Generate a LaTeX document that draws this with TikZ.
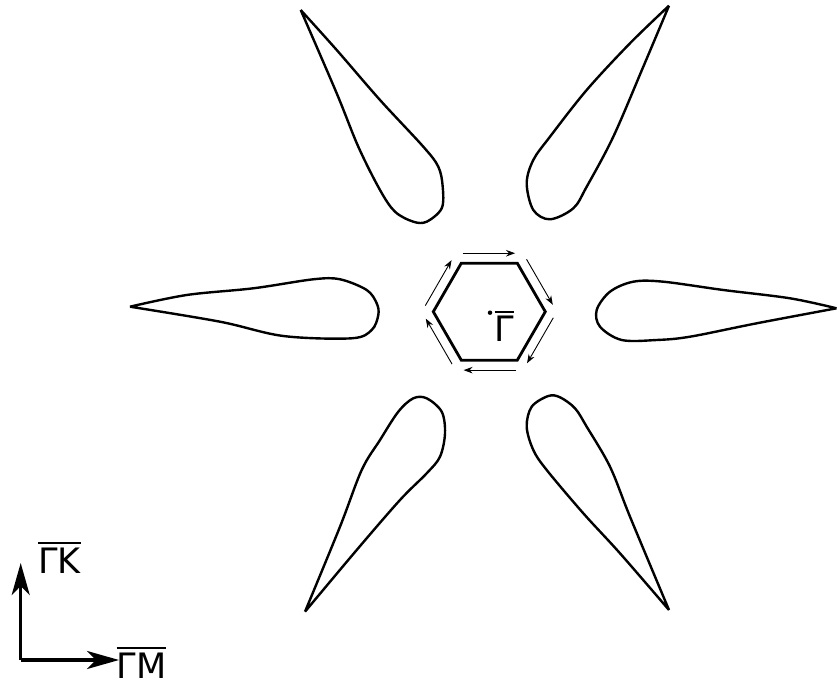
\documentclass[tikz,border=0pt]{standalone}
\usepackage{fontspec}
\setmainfont{DejaVu Sans}
\usetikzlibrary{arrows.meta,calc}
\newcommand\ovlbar[2]{\vbox{\hrule height 2pt\kern #1\hbox{#2}}}
\tikzset{
  petal/.style={draw=black, line width=2.4pt, line join=round},
  hexline/.style={draw=black, line width=2.8pt, line join=miter},
  circarrow/.style={draw=black, line width=0.9pt, -{Stealth[length=9pt,width=6.5pt]}, shorten <=7pt, shorten >=8pt},
  axisarrow/.style={draw=black, line width=3.3pt, -{Stealth[length=32pt,width=18pt,inset=9pt]}},
  lbl/.style={inner sep=0pt, anchor=base west, font=\fontsize{35}{42}\selectfont}
}
\begin{document}
\begin{tikzpicture}[x=1pt,y=-1pt]
\useasboundingbox (0,0) rectangle (838,684);
% petals
\draw[petal] plot[smooth, tension=0.55] coordinates {(130,306.7) (186.7,295) (253.3,288.3) (313.3,279.3) (340,279.3) (366.7,290) (376.7,303.3) (378.3,315) (371.7,330) (351.7,338.3) (283.3,336) (220,321.7) (130,306.7)};
\draw[petal] plot[smooth, tension=0.55] coordinates {(300.7,10) (336.7,50) (380,100) (423.3,146.7) (438.3,166.7) (442.7,186.7) (441.7,208.3) (426.7,221.7) (413.3,221.7) (395,211.7) (380,190) (358.3,146.7) (336.7,93.3) (300.7,10)};
\draw[petal] plot[smooth, tension=0.55] coordinates {(669,5.7) (630,43.3) (586.7,90) (550,136.7) (533.3,160) (526.7,183.3) (533.3,210) (550,219.3) (573.3,208.3) (586.7,186.7) (613.3,136.7) (643.3,66.7) (669,5.7)};
\draw[petal] plot[smooth, tension=0.55] coordinates {(836.5,308.3) (790,298.3) (723.3,290) (663.3,281.7) (633.3,281.7) (610,291.7) (596.7,310) (600,326.7) (621.7,340) (656.7,340) (690,336.7) (756.7,323.3) (836.5,308.3)};
\draw[petal] plot[smooth, tension=0.55] coordinates {(305,611.7) (356.7,550) (400,500) (426.7,473.3) (440,456.7) (445,433.3) (441.7,411.7) (426.7,398.3) (413.3,398.3) (398.3,411.7) (380,440) (361.7,470) (340,526.7) (305,611.7)};
\draw[petal] plot[smooth, tension=0.55] coordinates {(669,610) (620,553.3) (583.3,513.3) (546.7,470) (533.3,450) (526.7,426.7) (531.7,406.7) (548.3,396) (560,397.3) (575,408.3) (586.7,426.7) (610,466.7) (630,516.7) (669,610)};
% hexagon
\coordinate (C) at (489.3,311.7);
\draw[hexline] ($(C)+(0:56)$) \foreach \a in {60,120,...,300} { -- ($(C)+(\a:56)$) } -- cycle;
% arrows around hexagon (clockwise on screen; y axis points down)
\foreach \i/\a/\b in {1/-120/-60, 2/-60/0, 3/0/60, 4/60/120, 5/120/180, 6/180/240} {
  \coordinate (s\i) at ($(C)+(\a:67.5)$);
  \coordinate (e\i) at ($(C)+(\b:67.5)$);
  \draw[circarrow] (s\i) -- (e\i);
}
% centre point and label
\node[circle, fill=black, inner sep=0pt, minimum size=4.5pt] (dot) at (490,312.7) {};
\node[lbl] (gam) at (494.5,342) {\ovlbar{3pt}{Γ}};
% axes
\coordinate (O) at (20.7,660);
\coordinate (K) at (20.7,563);
\coordinate (M) at (119,660);
\draw[axisarrow] (O) -- (K);
\draw[axisarrow] (O) -- (M);
\node[lbl] (gk) at (38,573) {\ovlbar{3pt}{ΓK}};
\node[lbl] (gm) at (116.5,678) {\ovlbar{3pt}{ΓM}};
\end{tikzpicture}
\end{document}
